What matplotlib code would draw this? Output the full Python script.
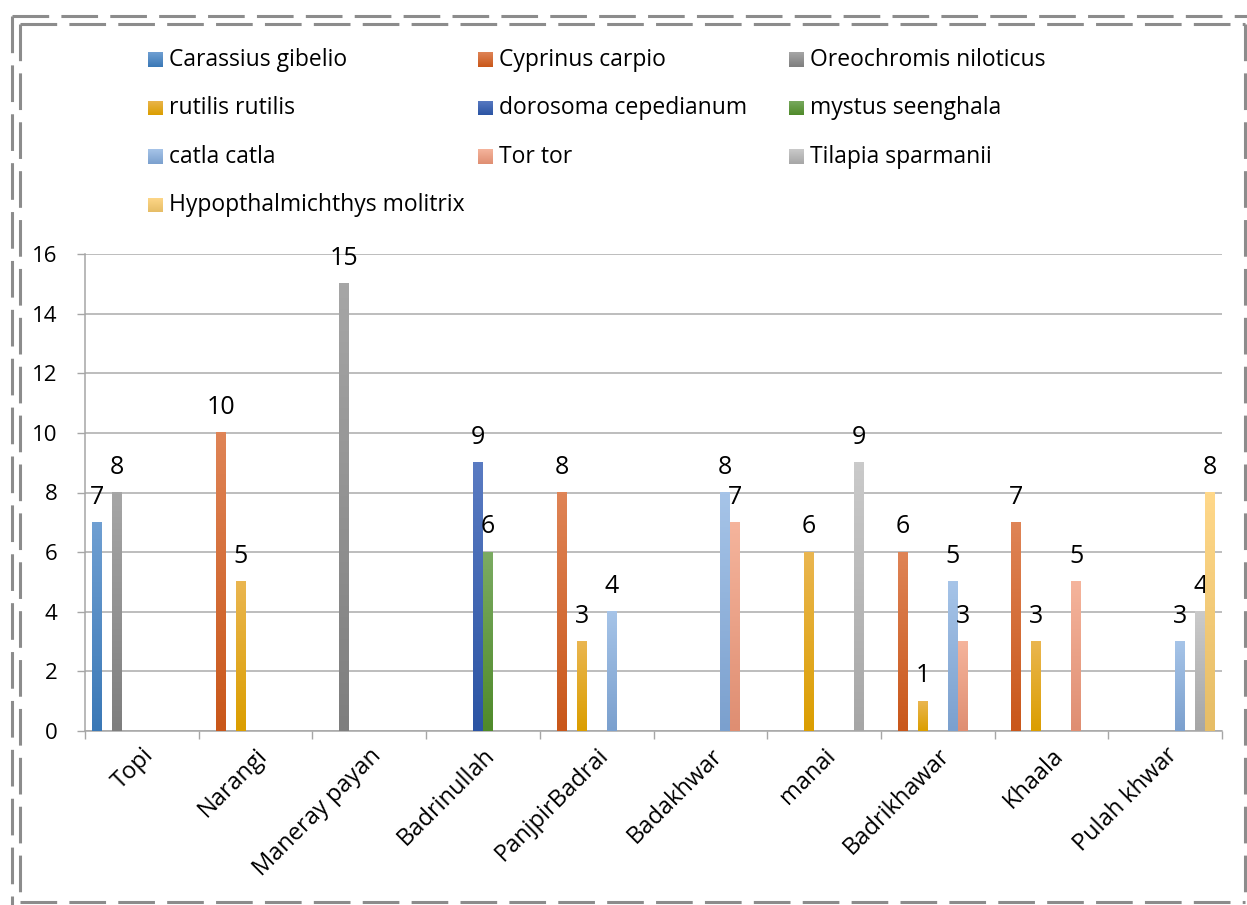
import numpy as np
import matplotlib.pyplot as plt
from matplotlib.lines import Line2D
from matplotlib.colors import to_rgb

plt.rcParams['font.family'] = ['Open Sans', 'DejaVu Sans']

# sites (x categories)
sites = ["Topi", "Narangi", "Maneray payan", "Badrinullah", "PanjpirBadrai",
         "Badakhwar", "manai", "Badrikhawar", "Khaala", "Pulah khwar"]

# species (series)
species = ["Carassius gibelio", "Cyprinus carpio", "Oreochromis niloticus",
           "rutilis rutilis", "dorosoma cepedianum", "mystus seenghala",
           "catla catla", "Tor tor", "Tilapia sparmanii",
           "Hypopthalmichthys molitrix"]

# counts per species, one value per site
carassius_gibelio = [7, 0, 0, 0, 0, 0, 0, 0, 0, 0]
cyprinus_carpio = [0, 10, 0, 0, 8, 0, 0, 6, 7, 0]
oreochromis_niloticus = [8, 0, 15, 0, 0, 0, 0, 0, 0, 0]
rutilis_rutilis = [0, 5, 0, 0, 3, 0, 6, 1, 3, 0]
dorosoma_cepedianum = [0, 0, 0, 9, 0, 0, 0, 0, 0, 0]
mystus_seenghala = [0, 0, 0, 6, 0, 0, 0, 0, 0, 0]
catla_catla = [0, 0, 0, 0, 4, 8, 0, 5, 0, 3]
tor_tor = [0, 0, 0, 0, 0, 7, 0, 3, 5, 0]
tilapia_sparmanii = [0, 0, 0, 0, 0, 0, 9, 0, 0, 4]
hypopthalmichthys_molitrix = [0, 0, 0, 0, 0, 0, 0, 0, 0, 8]

counts = [carassius_gibelio, cyprinus_carpio, oreochromis_niloticus,
          rutilis_rutilis, dorosoma_cepedianum, mystus_seenghala,
          catla_catla, tor_tor, tilapia_sparmanii, hypopthalmichthys_molitrix]

# gradient colours (top, bottom) like the excel fill
grad_cols = [("#6F9FD2", "#3A78B6"), ("#DF8456", "#C9571A"),
             ("#A6A6A6", "#7E7E7E"), ("#EAB650", "#DB9E00"),
             ("#5A7BC2", "#2B54A4"), ("#7BAB62", "#4F8A2A"),
             ("#A6C4E8", "#7BA0CE"), ("#F5B49C", "#DF8E72"),
             ("#CACACA", "#A6A6A6"), ("#FFD88A", "#E6BD66")]


def gradient(top, bottom, n=64):
    t = np.linspace(0, 1, n)[:, None]
    a = np.array(to_rgb(top))
    b = np.array(to_rgb(bottom))
    return (a * (1 - t) + b * t)[:, None, :]


W, H = 1247, 905
fig = plt.figure(figsize=(W / 100, H / 100), dpi=100)
ax = fig.add_axes([85 / W, 1 - 731 / H, (1222 - 85) / W, (731 - 254) / H])

n = len(species)
w = 1 / 11.37
x = np.arange(len(sites))
for j in range(n):
    bars = ax.bar(x + (j - 4.5) * w, counts[j], width=w, color=grad_cols[j][0],
                  zorder=2, linewidth=0)
    g = gradient(*grad_cols[j])
    for b, v in zip(bars, counts[j]):
        if v == 0:
            continue
        ax.imshow(g, extent=[b.get_x(), b.get_x() + b.get_width(), 0, v],
                  aspect='auto', zorder=3, interpolation='bilinear')
        ax.annotate(str(v), (b.get_x() + b.get_width() / 2, v), xytext=(0, 13.5),
                    textcoords='offset points', ha='center', va='baseline',
                    fontsize=18, color='black')

ax.set_xlim(-0.5, len(sites) - 0.5)
ax.set_ylim(0, 16)
ax.set_yticks(np.arange(0, 17, 2))
ax.set_xticks(np.arange(-0.5, len(sites), 1))
ax.set_xticklabels([])
ax.set_xticks(x, minor=True)
ax.set_xticklabels(sites, minor=True, rotation=45, ha='right',
                   rotation_mode='anchor', fontsize=17)
ax.tick_params(axis='x', which='minor', length=0, pad=9)
ax.tick_params(axis='x', which='major', length=6, width=1, color='#a6a6a6')
ax.tick_params(axis='y', length=6, width=1, color='#a6a6a6', labelsize=16, pad=14)
ax.grid(axis='y', color='#ababab', linewidth=1.1, zorder=0)
ax.set_axisbelow(True)
for s in ['top', 'right']:
    ax.spines[s].set_visible(False)
for s in ['left', 'bottom']:
    ax.spines[s].set_color('#a6a6a6')
    ax.spines[s].set_linewidth(1.1)

# legend laid out like the excel one (3 columns)
col_x = [148, 478, 789]
row_y = [60, 108, 157, 205]
for j, name in enumerate(species):
    cx = col_x[j % 3]
    cy = row_y[j // 3]
    lax = fig.add_axes([cx / W, 1 - (cy + 7.5) / H, 15 / W, 15 / H])
    lax.imshow(gradient(*grad_cols[j]), aspect='auto', interpolation='bilinear')
    lax.axis('off')
    fig.text((cx + 21) / W, 1 - cy / H, name, fontsize=16.5, va='center', ha='left')


# double dashed border
def px(xp, yp):
    return xp / W, 1 - yp / H


def dline(p0, p1):
    (x0, y0), (x1, y1) = px(*p0), px(*p1)
    fig.add_artist(Line2D([x0, x1], [y0, y1], transform=fig.transFigure,
                          color='#8c8c8c', linewidth=2.2, dashes=(12, 4),
                          solid_capstyle='butt', dash_capstyle='butt'))


dline((12, 16), (1260, 16))
dline((12, 16), (12, 920))
dline((20, 24), (1245, 24))
dline((20, 24), (20, 902))
dline((1245, 24), (1245, 902))
dline((20, 902), (1245, 902))

fig.savefig("out.png", dpi=100)
